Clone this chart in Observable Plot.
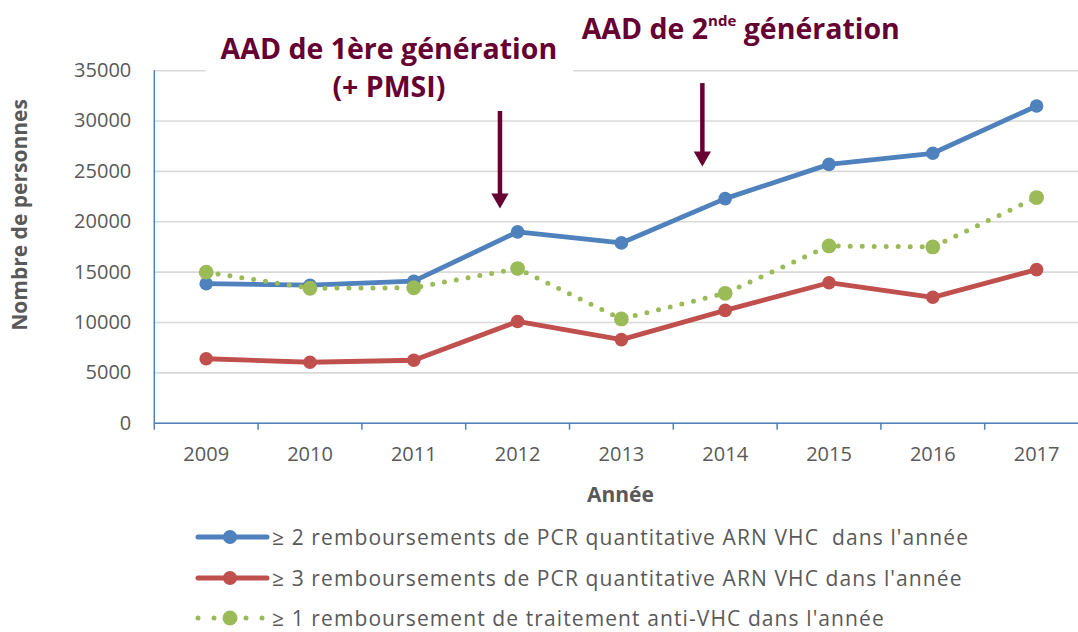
<!DOCTYPE html>
<html>
<head>
<meta charset="utf-8">
<script src="https://cdn.jsdelivr.net/npm/d3@7"></script>
<script src="https://cdn.jsdelivr.net/npm/@observablehq/plot@0.6"></script>
<style>
  html, body { margin: 0; padding: 0; background: #fff; }
  #chart { position: relative; width: 1078px; height: 632px; overflow: hidden; font-family: "Open Sans", sans-serif; }
  #chart svg { display: block; }
  .legend-row { position: absolute; left: 190px; height: 30px; display: flex; align-items: center; color: #595959; font-size: 21px; letter-spacing: 1.1px; white-space: pre; }
  .legend-row svg { width: 82px; height: 30px; flex: none; }
</style>
</head>
<body>
<div id="chart"></div>
<script>
// ---- data ----
const years = [2009, 2010, 2011, 2012, 2013, 2014, 2015, 2016, 2017];
const pcr2 = [13850, 13700, 14100, 19000, 17900, 22300, 25700, 26800, 31500];
const pcr3 = [6400, 6050, 6250, 10100, 8300, 11200, 13950, 12500, 15250];
const traitement = [15000, 13400, 13450, 15350, 10350, 12900, 17600, 17500, 22400];
const seriesLabels = [
  "≥ 2 remboursements de PCR quantitative ARN VHC  dans l'année",
  "≥ 3 remboursements de PCR quantitative ARN VHC dans l'année",
  "≥ 1 remboursement de traitement anti-VHC dans l'année"
];
const seriesColors = ["#4F81BD", "#C0504D", "#9BBB59"];
const yTicks = [0, 5000, 10000, 15000, 20000, 25000, 30000, 35000];
const yTitle = "Nombre de personnes";
const xTitle = "Année";
const annotationLabels = ["AAD de 1ère génération", "(+ PMSI)", "AAD de 2nde génération"];
const annotationYears = [2010.76, 2010.76, 2014.15];
const annotationValues = [36200, 32350, 38100];
const arrowYears = [2011.83, 2013.78];
const arrowTops = [30950, 33720];
const arrowHeads = [22310, 26480];

// ---- build tables ----
const seriesValues = [pcr2, pcr3, traitement];
const rows = seriesValues.map((vals, s) => years.map((yr, i) => ({ year: yr, value: vals[i], serie: s })));
const boundaries = [...years.map(y => y - 0.5), years[years.length - 1] + 0.5];
const annotations = annotationLabels.map((t, i) => ({ label: t, year: annotationYears[i], value: annotationValues[i] }));
const arrows = arrowYears.map((x, i) => ({ year: x, top: arrowTops[i], head: arrowHeads[i] }));
const maroon = "#660033";
const axisBlue = "#4F81BD";

const W = 1078, H = 510;
const left = 153.8, band = 103.8;

const plot = Plot.plot({
  width: W, height: H,
  marginLeft: left, marginRight: 0, marginTop: 70.2, marginBottom: H - 422.7,
  x: { type: "linear", domain: [years[0] - 0.5, years[years.length - 1] + 0.5], range: [left, left + band * years.length] },
  y: { domain: [0, 35000] },
  style: { fontFamily: "Open Sans, sans-serif", fontSize: "20px", color: "#595959", background: "white", overflow: "hidden" },
  marks: [
    Plot.ruleY(yTicks, { y: d => d, x1: boundaries[0], x2: boundaries[boundaries.length - 1], stroke: "#D9D9D9", strokeWidth: 1.6 }),
    Plot.rect([0], { x1: 2009.0, x2: 2012.54, y1: 33500, y2: 36800, fill: "white" }),
    Plot.axisY({ ticks: yTicks, tickSize: 0, tickPadding: 23, tickFormat: d => String(d), label: null, fontSize: 20, fill: "#595959" }),
    Plot.axisX({ ticks: boundaries, tickSize: 7, tickFormat: () => "", label: null, stroke: axisBlue, strokeWidth: 1.5 }),
    Plot.axisX({ ticks: years, tickSize: 0, tickPadding: 24, tickFormat: d => String(d), label: null, fontSize: 20, fill: "#595959" }),
    Plot.ruleY([0], { x1: boundaries[0], x2: boundaries[boundaries.length - 1], stroke: axisBlue, strokeWidth: 1.5 }),
    Plot.ruleX([boundaries[0]], { y1: 0, y2: 35000, stroke: axisBlue, strokeWidth: 1.5 }),
    // series
    Plot.line(rows[0], { x: "year", y: "value", stroke: seriesColors[0], strokeWidth: 4.8 }),
    Plot.dot(rows[0], { x: "year", y: "value", r: 6.8, fill: seriesColors[0] }),
    Plot.line(rows[1], { x: "year", y: "value", stroke: seriesColors[1], strokeWidth: 4.8 }),
    Plot.dot(rows[1], { x: "year", y: "value", r: 6.8, fill: seriesColors[1] }),
    Plot.line(rows[2], { x: "year", y: "value", stroke: seriesColors[2], strokeWidth: 5, strokeDasharray: "0 12", strokeLinecap: "round" }),
    Plot.dot(rows[2], { x: "year", y: "value", r: 7.4, fill: seriesColors[2] }),
    // arrows
    Plot.ruleX(arrows, { x: "year", y1: "top", y2: "head", stroke: maroon, strokeWidth: 4.5 }),
    Plot.dot(arrows, { x: "year", y: "head", symbol: "triangle", r: 6.4, rotate: 180, fill: maroon }),
    // annotations
    Plot.text(annotations, { x: "year", y: "value", text: "label", lineAnchor: "bottom", textAnchor: "middle", fontSize: 28.5, fontWeight: "bold", fill: maroon }),
    // titles
    Plot.text([yTitle], { frameAnchor: "left", dx: -134, dy: -32, rotate: -90, textAnchor: "middle", fontSize: 21, fontWeight: "bold", fill: "#595959" }),
    Plot.text([xTitle], { frameAnchor: "bottom", dx: 4, dy: 79, lineAnchor: "bottom", fontSize: 21, fontWeight: "bold", fill: "#595959" })
  ]
});

const chart = document.getElementById("chart");
chart.appendChild(plot);

// superscript on "2nde"
d3.select(plot).selectAll("text").filter(function () { return this.textContent === annotationLabels[2]; })
  .each(function () {
    const t = d3.select(this);
    t.text(null);
    t.append("tspan").text("AAD de 2");
    t.append("tspan").attr("dy", -13).attr("font-size", 15).text("nde");
    t.append("tspan").attr("dy", 13).text(" génération");
  });

// legend (HTML below the SVG)
const rowTops = [522, 563, 603];
seriesLabels.forEach((label, i) => {
  const row = document.createElement("div");
  row.className = "legend-row";
  row.style.top = rowTops[i] + "px";
  const sw = d3.create("svg").attr("width", 82).attr("height", 30);
  const ln = sw.append("line").attr("x1", 8).attr("x2", 77).attr("y1", 15).attr("y2", 15)
    .attr("stroke", seriesColors[i]).attr("stroke-width", 5).attr("stroke-linecap", "round");
  if (i === 2) ln.attr("stroke-dasharray", "0 16").attr("x1", 8).attr("x2", 80);
  sw.append("circle").attr("cx", 40).attr("cy", 15).attr("r", i === 2 ? 7.5 : 7).attr("fill", seriesColors[i]);
  row.appendChild(sw.node());
  const span = document.createElement("span");
  span.textContent = label;
  row.appendChild(span);
  chart.appendChild(row);
});
</script>
</body>
</html>
